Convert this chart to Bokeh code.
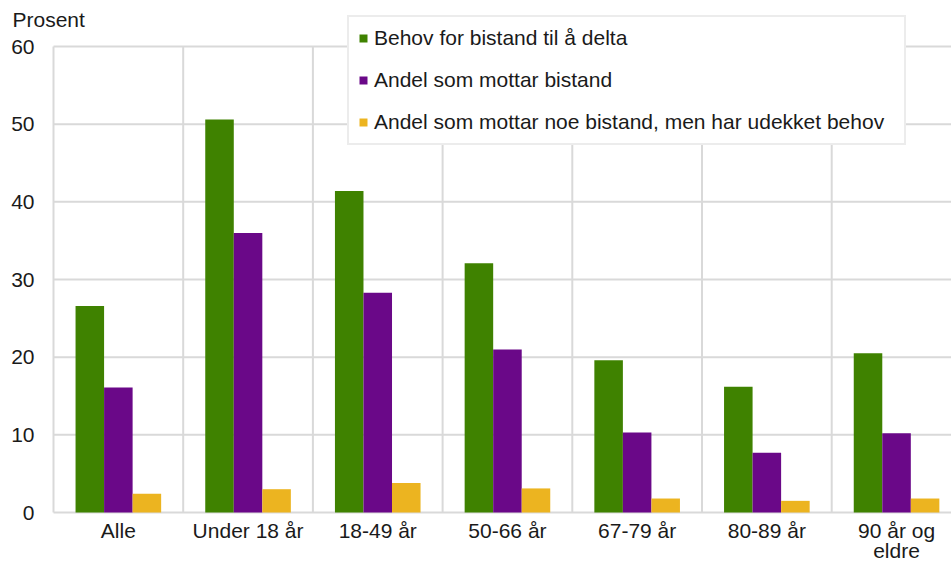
from bokeh.plotting import figure
from bokeh.models import ColumnDataSource, Range1d, Legend, LegendItem
from bokeh.transform import dodge
from bokeh.core.properties import value
from bokeh.embed import file_html
from bokeh.resources import INLINE

categories = ["Alle", "Under 18 år", "18-49 år", "50-66 år", "67-79 år", "80-89 år", "90 år og\neldre"]
behov = [26.6, 50.6, 41.4, 32.1, 19.6, 16.2, 20.5]
mottar = [16.1, 36.0, 28.3, 21.0, 10.3, 7.7, 10.2]
udekket = [2.4, 3.0, 3.8, 3.1, 1.8, 1.5, 1.8]
series_names = ["Behov for bistand til å delta", "Andel som mottar bistand",
                "Andel som mottar noe bistand, men har udekket behov"]
colors = ["#3F8200", "#6A0888", "#ECB420"]
y_ticks = [0, 10, 20, 30, 40, 50, 60]
y_labels = [str(v) for v in y_ticks]
y_title = "Prosent"

FONT = "Liberation Sans"
GRID = "#D9D9D9"
TXT = "#1a1a1a"

# layout (pixels)
W, H = 951, 561
LEFT, TOP = 53, 46                      # plot area offsets inside the canvas
PLOT_H = 466
BOTTOM = H - TOP - PLOT_H
PX_CAT = 129.7                           # pixels per category
PX_UNIT = PLOT_H / 60.0                  # pixels per percent

n = len(categories)
x_range = Range1d(-LEFT / PX_CAT, (W - LEFT) / PX_CAT)
y_range = Range1d(-BOTTOM / PX_UNIT, 60 + TOP / PX_UNIT)

p = figure(width=W, height=H, output_backend="svg", toolbar_location=None,
           x_range=x_range, y_range=y_range,
           min_border_left=0, min_border_right=0, min_border_top=0, min_border_bottom=0)
p.outline_line_color = None
p.axis.visible = False
p.grid.visible = False

# grid lines
bounds = list(range(n + 1))
p.segment(x0=bounds, x1=bounds, y0=[0] * len(bounds), y1=[60] * len(bounds),
          line_color=GRID, line_width=2)
p.segment(x0=[0] * len(y_ticks), x1=[x_range.end] * len(y_ticks), y0=y_ticks, y1=y_ticks,
          line_color=GRID, line_width=2)

# bars
centers = [i + 0.5 for i in range(n)]
src = ColumnDataSource(dict(x=centers, behov=behov, mottar=mottar, udekket=udekket))
bw = 0.22
renderers = []
for col, off, c in zip(["behov", "mottar", "udekket"], [-bw, 0, bw], colors):
    r = p.vbar(x=dodge("x", off, range=p.x_range), top=col, width=bw, bottom=0,
               source=src, fill_color=c, line_color=None)
    renderers.append(r)

# y tick labels
p.text(x=[0] * len(y_ticks), y=y_ticks, text=y_labels, x_offset=-19,
       text_font=value(FONT), text_font_size="21px", text_color=TXT,
       text_align="right", text_baseline="middle")

# category labels
p.text(x=centers, y=[-6 / PX_UNIT] * n, text=categories,
       text_font=value(FONT), text_font_size="21px", text_color=TXT,
       text_align="center", text_baseline="top", text_line_height=0.88)

# unit title
p.text(x=[0], y=[60 + 27 / PX_UNIT], text=[y_title], x_offset=-41,
       text_font=value(FONT), text_font_size="21px", text_color=TXT,
       text_align="left", text_baseline="middle")

# legend
items = [LegendItem(label=nm, renderers=[r]) for nm, r in zip(series_names, renderers)]
leg = Legend(items=items, location=(347, H - 145))
leg.label_text_font = FONT
leg.label_text_font_size = "21px"
leg.label_text_color = TXT
leg.glyph_width = 10
leg.glyph_height = 10
leg.label_height = 22
leg.label_width = 521
leg.label_standoff = 6
leg.spacing = 18
leg.padding = 9
leg.border_line_color = GRID
leg.border_line_width = 2
leg.background_fill_color = "white"
leg.background_fill_alpha = 1
p.add_layout(leg)

open("out.html", "w").write(file_html(p, INLINE))
